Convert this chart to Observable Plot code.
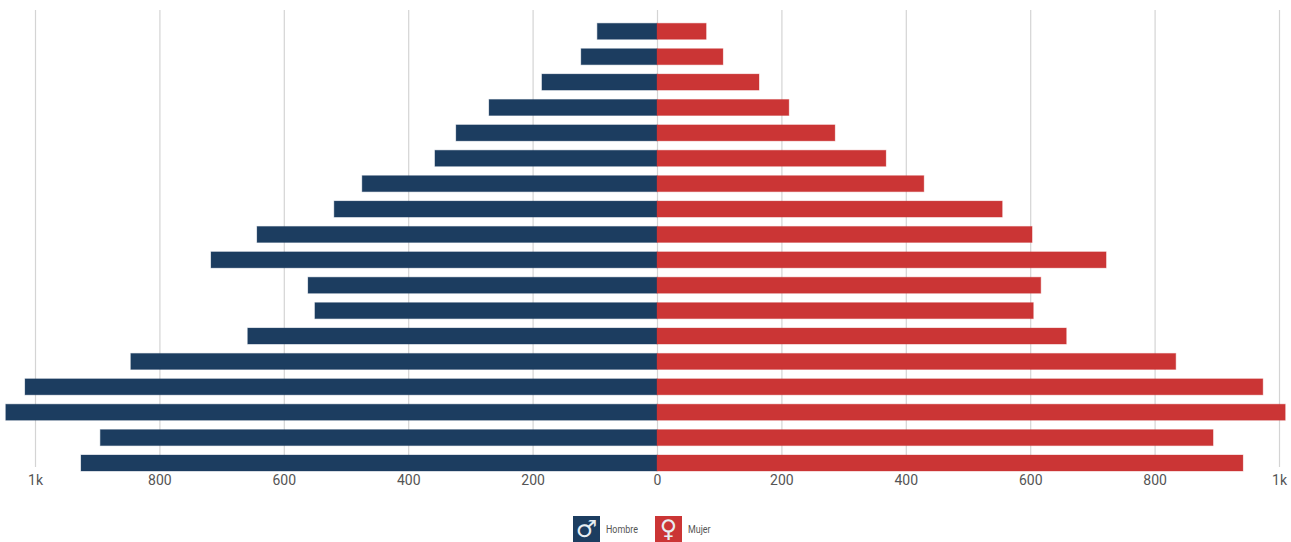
<!DOCTYPE html>
<html>
<head>
<meta charset="utf-8">
<script src="https://cdn.jsdelivr.net/npm/d3@7"></script>
<script src="https://cdn.jsdelivr.net/npm/@observablehq/plot@0.6"></script>
<style>
html,body{margin:0;padding:0;background:#fff;overflow:hidden}
#chart svg{display:block}
#legend{display:flex;height:26px;margin-left:573px;font-family:"Roboto",sans-serif;font-size:11px;color:#555}
.item{display:flex;align-items:center}
.icon{width:27px;height:26px;display:flex;align-items:center;justify-content:center;color:#e8eef2;font-family:"DejaVu Sans";font-size:24px;line-height:26px;font-weight:bold;overflow:hidden}
.lab{margin-left:6px;width:49px;transform:scaleX(0.81);transform-origin:left center}
</style>
</head>
<body>
<div id="chart"></div>
<div id="legend">
  <div class="item"><div class="icon" style="background:#1c3d60">♂</div><div class="lab">Hombre</div></div>
  <div class="item"><div class="icon" style="background:#cb3535">♀</div><div class="lab">Mujer</div></div>
</div>
<script>
const groups = ["85+","80-84","75-79","70-74","65-69","60-64","55-59","50-54","45-49","40-44","35-39","30-34","25-29","20-24","15-19","10-14","5-9","0-4"];
const hombre = [96,122,185,270,323,357,474,519,643,717,561,550,658,846,1016,1047,895,926];
const mujer  = [79,106,164,212,286,368,429,555,603,722,617,605,658,834,974,1010,894,942];
const ticks = [-1000,-800,-600,-400,-200,0,200,400,600,800,1000];

const rowsH = groups.map((g,i)=>({group:g,value:-hombre[i]}));
const rowsM = groups.map((g,i)=>({group:g,value:mujer[i]}));
const fmt = d => Math.abs(d)===1000 ? "1k" : String(Math.abs(d));

const plot = Plot.plot({
  width:1291, height:516,
  marginTop:10, marginBottom:49, marginLeft:35, marginRight:12,
  style:{fontFamily:'"Roboto",sans-serif',fontSize:"14px",background:"#fff"},
  x:{domain:[-1000,1000],range:[35,1279],label:null},
  y:{domain:groups,range:[18.6,475.7],paddingInner:0.37,paddingOuter:0.185,align:0.5,round:false,axis:null,label:null},
  marks:[
    Plot.gridX(ticks,{stroke:"#d4d4d4",strokeOpacity:1,strokeWidth:1.2}),
    Plot.barX(rowsH,{x1:0,x2:"value",y:"group",fill:"#1c3d60",stroke:"#1c3d60",strokeOpacity:0.35,strokeWidth:1}),
    Plot.barX(rowsM,{x1:0,x2:"value",y:"group",fill:"#cb3535",stroke:"#cb3535",strokeOpacity:0.35,strokeWidth:1}),
    Plot.axisX(ticks,{anchor:"bottom",tickSize:0,tickPadding:8,tickFormat:fmt,label:null,fill:"#555"})
  ]
});
document.getElementById("chart").append(plot);
</script>
</body>
</html>
